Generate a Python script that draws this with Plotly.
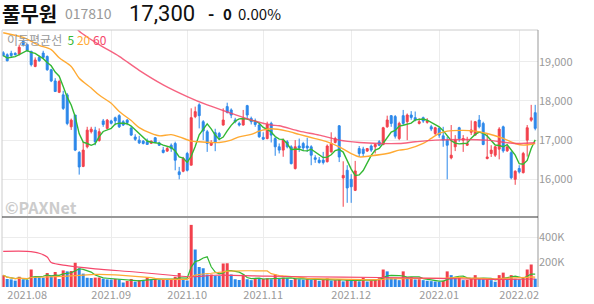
import pandas as pd
import plotly.graph_objects as go

# ---------------- data ----------------
holidays = ["2021-08-16", "2021-09-20", "2021-09-21", "2021-09-22", "2021-10-04",
            "2021-10-11", "2021-12-31", "2022-01-31", "2022-02-01", "2022-02-02"]
dates = [d.strftime("%Y-%m-%d") for d in pd.bdate_range("2021-07-23", "2022-02-09")
         if d.strftime("%Y-%m-%d") not in holidays]

opens = [19230,19180,19215,19215,19195,19520,19440,19265,18880,19110,
         19220,19135,18795,18510,18220,18155,18155,17340,17640,16685,
         16330,16830,17215,17255,16990,17490,17300,17490,17570,17625,
         17470,17510,17310,17080,17000,16975,16957,16920,17060,16930,
         16745,16720,16870,16915,16190,16205,16658,16360,17600,17900,
         17470,17214,16870,17190,17170,17385,17855,17770,17513,17427,
         17385,17880,17555,17470,17385,17070,17040,17427,17040,16830,
         16745,16957,16830,16275,16850,16915,16850,16830,16550,16490,
         16490,16450,16700,16940,17365,16035,16230,16000,15718,16785,
         16770,16720,16850,16830,16957,16890,17340,17624,17600,17040,
         17624,17470,17641,17573,17427,17573,17453,17342,17170,17300,
         17110,17000,16547,16830,17316,17000,16870,17200,17128,17513,
         17427,16530,16658,16615,16770,17340,16727,16680,16000,16275,
         16170,17000,17510,17700]
highs = [19270,19215,19280,19240,19435,19540,19460,19280,19110,19160,
         19280,19160,18820,18580,18540,18260,18200,17550,17640,16720,
         16955,17340,17340,17340,17300,17540,17540,17520,17600,17660,
         17510,17540,17350,17150,17110,17000,17040,16990,17080,16960,
         16830,16830,16915,16960,16317,16573,16700,17812,17855,17940,
         17510,17260,17000,17290,17210,17812,17955,17810,17570,17470,
         17770,17900,17600,17550,17430,17200,17470,17470,17080,16915,
         17040,17000,16870,17000,17040,16957,17060,16870,16615,16570,
         16700,16890,17200,17085,17385,16460,16360,16130,16470,16850,
         16830,16800,16890,16915,17000,17340,17624,17640,17640,17470,
         17770,17680,17740,17730,17560,17600,17560,17390,17340,17340,
         17340,17085,17385,17128,17340,17128,17085,17500,17490,17640,
         17470,17170,16870,16850,17330,17370,16830,16720,16230,16360,
         16700,17385,17900,17900]
lows = [19130,19010,19095,19160,19160,19390,19250,18880,18860,19000,
        19090,18770,18480,18230,18200,17770,17380,17260,16720,16120,
        16310,16790,17170,16870,16960,17340,17280,17400,17380,17310,
        17360,17380,17110,16980,16900,16890,16890,16900,16920,16850,
        16660,16700,16700,16230,16000,16180,16200,16360,17560,17300,
        17000,16700,16850,16718,17000,17370,17680,17560,17430,17350,
        17370,17555,17400,17340,17060,17000,17020,16940,16600,16660,
        16575,16790,16380,16250,16700,16720,16700,16360,16420,16400,
        16380,16430,16680,16915,16440,15300,15400,15400,15700,16570,
        16570,16700,16700,16660,16850,16870,17316,17340,17040,17000,
        17390,17000,17520,17480,17400,17440,17420,17230,17130,17060,
        16830,16000,16510,16720,16957,16700,16850,17130,17110,17300,
        16870,16510,16570,16570,16510,16680,16700,16000,15860,16150,
        16150,16580,17470,17250]
closes = [19160,19025,19160,19180,19370,19435,19290,18925,19045,19025,
          19110,18795,18510,18240,18495,17810,17425,17510,16745,16315,
          16745,17255,17280,16955,17215,17400,17510,17430,17490,17340,
          17385,17450,17128,17020,16930,16915,16890,16975,16940,16870,
          16685,16785,16785,16487,16120,16530,16230,17573,17727,17624,
          17231,16915,16940,16940,17085,17513,17710,17640,17470,17385,
          17555,17640,17470,17400,17085,17025,17400,17128,16830,16745,
          17000,16830,16400,16830,16800,16800,16800,16615,16510,16430,
          16430,16850,16915,17040,16570,16100,15780,15810,16214,16660,
          16660,16785,16745,16890,16870,17316,17513,17427,17100,17427,
          17427,17641,17580,17510,17470,17487,17487,17282,17316,17128,
          17000,16870,16615,17000,17040,17040,16915,17260,17470,17342,
          16890,16570,16745,16830,17282,16727,16830,16040,16205,16190,
          16660,17316,17570,17300]
volume_k = [94,64,61,51,82,61,56,140,82,78,
            75,112,94,120,64,133,125,128,194,150,
            107,74,72,75,76,66,61,60,64,61,
            36,48,64,43,56,52,77,64,66,56,
            61,56,57,82,112,56,52,497,300,160,
            150,100,100,90,88,188,190,100,62,56,
            100,62,55,72,65,66,70,62,100,66,
            75,70,56,68,62,58,62,56,60,50,
            62,70,52,55,60,45,56,50,60,45,
            74,44,55,60,70,140,125,70,66,55,
            125,80,80,60,62,55,50,47,44,42,
            50,125,95,80,80,55,56,72,95,68,
            62,62,55,42,95,115,60,95,66,62,
            70,140,180,66]

# moving averages (candle index, value)
ma20_idx = [0,5,9,12,14,17,19,22,24,27,29,32,34,37,39,42,44,47,49,52,54,57,59,62,64,67,71,74,78,81,84,87,89,92,96,99,101,105,107,109,111,115,118,121,125,128,130,133]
ma20_val = [19740,19620,19420,19310,19100,18880,18580,18330,18150,17940,17730,17500,17320,17170,17110,17140,17085,16975,16957,16940,16940,17000,17085,17145,17230,17290,17230,17145,17040,16957,16830,16658,16573,16600,16658,16745,16770,16915,17043,17170,17230,17248,17230,17170,17043,16915,16872,16915]
ma60_idx = [18,19,24,29,34,40,46,51,57,62,67,69,74,79,84,89,94,99,103,108,115,121,128,133]
ma60_val = [19900,19780,19436,19137,18780,18410,18111,17897,17684,17513,17385,17367,17230,17128,17000,16940,16915,16915,16957,17000,17017,17000,16915,16932]
vma60_idx = [0,6,9,11,12,16,23,33,42,47,53,66,75,94,109,123,133]
vma60_val = [285,285,270,240,196,171,145,120,94,82,94,87,82,76,69,61,64]

price_ticks = [16000, 17000, 18000, 19000]
price_labels = ["16,000", "17,000", "18,000", "19,000"]
vol_ticks = [200, 400]
vol_labels = ["200K", "400K"]
month_starts = ["2021-08-02", "2021-09-01", "2021-10-01", "2021-11-01", "2021-12-01", "2022-01-03", "2022-02-03"]
month_labels = ["2021.08", "2021.09", "2021.10", "2021.11", "2021.12", "2022.01", "2022.02"]

# ---------------- styling ----------------
UP = "#f2404c"
DOWN = "#2b87ea"
C5 = "#33b833"
C20 = "#ffaa33"
C60 = "#f5486b"
GRID = "#ececec"
TXT = "#9a9a9a"
FONT = "Noto Sans CJK KR"

W, H = 594, 304
ML, MR, MT, MB = 2, 56, 30, 17
PW, PH = W - ML - MR, H - MT - MB


def px(x):
    return (x - ML) / PW


def py(y):
    return (H - MB - y) / PH


close_s = pd.Series(closes)
ma5 = close_s.rolling(5, min_periods=1).mean()
vol_s = pd.Series(volume_k)
vma5 = vol_s.rolling(5, min_periods=1).mean()
vma20 = vol_s.rolling(20, min_periods=1).mean()
vol_colors = [UP if i == 0 or volume_k[i] >= volume_k[i - 1] else DOWN for i in range(len(volume_k))]

fig = go.Figure()
fig.add_trace(go.Candlestick(
    x=dates, open=opens, high=highs, low=lows, close=closes,
    increasing=dict(line=dict(color=UP, width=1), fillcolor=UP),
    decreasing=dict(line=dict(color=DOWN, width=1), fillcolor=DOWN),
    whiskerwidth=0, xaxis="x", yaxis="y", showlegend=False, hoverinfo="skip"))
fig.add_trace(go.Scatter(x=dates, y=ma5, mode="lines", line=dict(color=C5, width=1.4),
                         xaxis="x", yaxis="y", showlegend=False, hoverinfo="skip"))
fig.add_trace(go.Scatter(x=[dates[i] for i in ma20_idx], y=ma20_val, mode="lines",
                         line=dict(color=C20, width=1.4, shape="spline", smoothing=0.8),
                         xaxis="x", yaxis="y", showlegend=False, hoverinfo="skip"))
fig.add_trace(go.Scatter(x=[dates[i] for i in ma60_idx], y=ma60_val, mode="lines",
                         line=dict(color=C60, width=1.4, shape="spline", smoothing=0.8),
                         opacity=0.85, xaxis="x", yaxis="y", showlegend=False, hoverinfo="skip"))

fig.add_trace(go.Bar(x=dates, y=volume_k, marker=dict(color=vol_colors, line=dict(width=0)),
                     xaxis="x2", yaxis="y2", showlegend=False, hoverinfo="skip"))
fig.add_trace(go.Scatter(x=dates, y=vma5, mode="lines", line=dict(color=C5, width=1.2),
                         xaxis="x2", yaxis="y2", showlegend=False, hoverinfo="skip"))
fig.add_trace(go.Scatter(x=dates, y=vma20, mode="lines", line=dict(color=C20, width=1.2),
                         xaxis="x2", yaxis="y2", showlegend=False, hoverinfo="skip"))
fig.add_trace(go.Scatter(x=[dates[i] for i in vma60_idx], y=vma60_val, mode="lines",
                         line=dict(color=C60, width=1.2, shape="spline", smoothing=0.8),
                         xaxis="x2", yaxis="y2", showlegend=False, hoverinfo="skip"))

xr = [-0.3, len(dates) - 0.3]
price_bottom = py(216)
vol_top = py(218)

fig.update_layout(
    width=W, height=H, margin=dict(l=ML, r=MR, t=MT, b=MB),
    paper_bgcolor="white", plot_bgcolor="white",
    font=dict(family=FONT, size=11, color=TXT),
    bargap=0.25,
    xaxis=dict(type="category", range=xr, domain=[0, 1], anchor="y",
               tickmode="array", tickvals=month_starts, showticklabels=False,
               showgrid=True, gridcolor=GRID, gridwidth=1, zeroline=False,
               rangeslider=dict(visible=False), ticks=""),
    xaxis2=dict(type="category", range=xr, domain=[0, 1], anchor="y2", matches="x",
                tickmode="array", tickvals=month_starts, ticktext=month_labels,
                tickfont=dict(size=11, color=TXT, family=FONT),
                showgrid=True, gridcolor=GRID, gridwidth=1, zeroline=False, ticks=""),
    yaxis=dict(domain=[price_bottom, 1], range=[15064, 19810], side="right", anchor="x",
               tickmode="array", tickvals=price_ticks, ticktext=price_labels,
               tickfont=dict(size=11, color=TXT, family=FONT),
               showgrid=True, gridcolor=GRID, gridwidth=1, zeroline=False, ticks=""),
    yaxis2=dict(domain=[0, vol_top], range=[0, 552], side="right", anchor="x2",
                tickmode="array", tickvals=vol_ticks, ticktext=vol_labels,
                tickfont=dict(size=11, color=TXT, family=FONT),
                showgrid=True, gridcolor=GRID, gridwidth=1, zeroline=False, ticks=""),
)

# frame lines
shapes = [
    dict(type="line", xref="paper", yref="paper", x0=0, x1=1, y0=1, y1=1, line=dict(color="#cccccc", width=1)),
    dict(type="line", xref="paper", yref="paper", x0=0, x1=0, y0=0, y1=1, line=dict(color="#cccccc", width=1)),
    dict(type="line", xref="paper", yref="paper", x0=1, x1=1, y0=0, y1=1, line=dict(color="#999999", width=1)),
    dict(type="line", xref="paper", yref="paper", x0=0, x1=1, y0=py(217), y1=py(217), line=dict(color="#333333", width=1.2)),
]
fig.update_layout(shapes=shapes)

ann = []


def add(text, x, y, size, color, bold=False, family=FONT, height=None):
    d = dict(text=("<b>%s</b>" % text) if bold else text, x=px(x), y=py(y), xref="paper", yref="paper",
             xanchor="left", yanchor="middle", showarrow=False, borderpad=0,
             font=dict(size=size, color=color, family=family))
    if height:
        d["height"] = height
    ann.append(d)


add("풀무원", 1, 13, 20, "#111111", bold=True, height=24)
add("017810", 64, 13, 14, "#999999")
add("17,300", 128, 13.5, 22, "#111111", family="Roboto")
add("-", 207, 12, 17, "#111111", bold=True)
add("0", 222, 13, 15, "#111111", bold=True)
add("0.00%", 237, 13, 15, "#111111")
ann.append(dict(text="이동평균선  <span style='color:%s'>5</span> <span style='color:%s'>20</span> <span style='color:%s'>60</span>" % (C5, C20, C60),
                x=px(5), y=py(40), xref="paper", yref="paper", xanchor="left", yanchor="middle",
                showarrow=False, font=dict(size=12, color="#999999", family=FONT)))
add("©PAXNet", 4, 207, 16, "#cccccc", bold=True)
fig.update_layout(annotations=ann)

fig.write_html("out.html", config={"displayModeBar": False})
